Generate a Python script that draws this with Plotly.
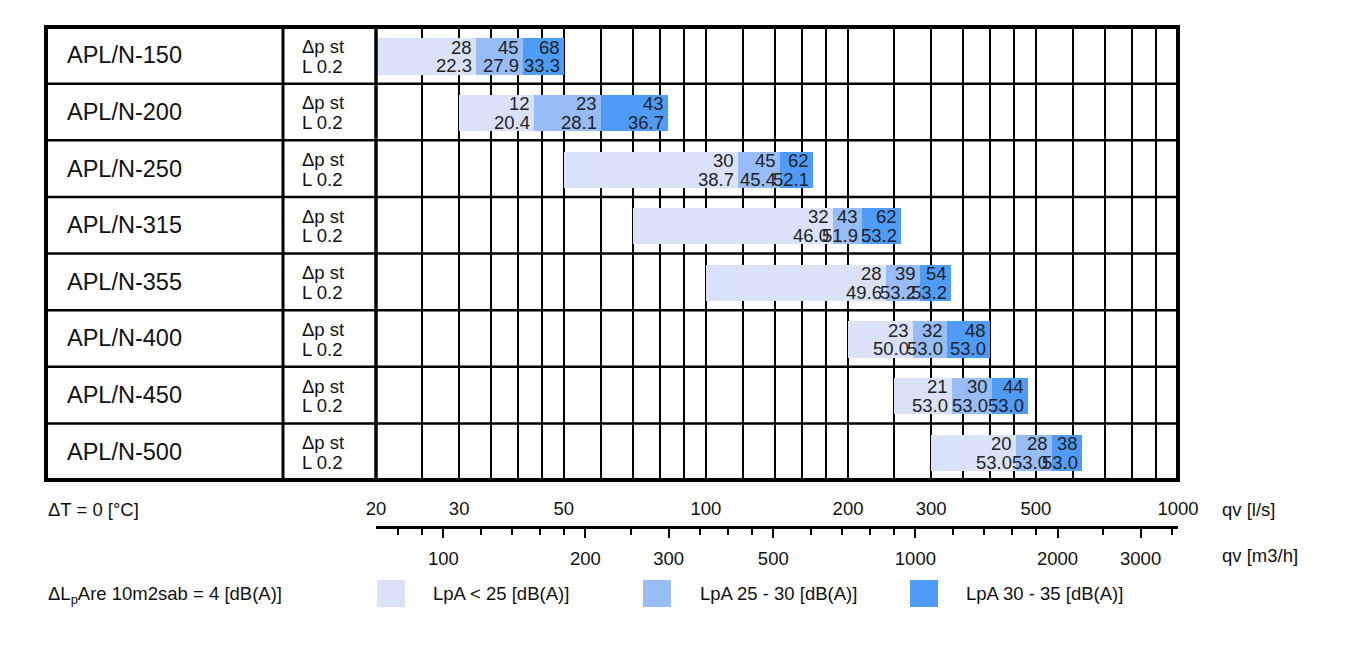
import numpy as np
import plotly.graph_objects as go

# ---------------- data ----------------
models = ["APL/N-150", "APL/N-200", "APL/N-250", "APL/N-315",
          "APL/N-355", "APL/N-400", "APL/N-450", "APL/N-500"]
# flow boundaries of the segments [l/s]
q_start = [20, 30, 50, 70, 100, 200, 250, 300]
q_lpa25 = [32.6, 43.2, 117, 186, 241, 275, 332, 454]
q_lpa30 = [41, 60, 143.5, 214, 284, 324, 404, 541]
q_lpa35 = [50, 83, 168.6, 259, 330, 400, 481, 626]
# static pressure drop (top numbers)
dp_lpa25 = [28, 12, 30, 32, 28, 23, 21, 20]
dp_lpa30 = [45, 23, 45, 43, 39, 32, 30, 28]
dp_lpa35 = [68, 43, 62, 62, 54, 48, 44, 38]
# throw L 0.2 (bottom numbers)
l02_lpa25 = [22.3, 20.4, 38.7, 46.0, 49.6, 50.0, 53.0, 53.0]
l02_lpa30 = [27.9, 28.1, 45.4, 51.9, 53.2, 53.0, 53.0, 53.0]
l02_lpa35 = [33.3, 36.7, 52.1, 53.2, 53.2, 53.0, 53.0, 53.0]

grid_ls = [20, 25, 30, 35, 40, 45, 50, 60, 70, 80, 90, 100, 120, 140, 160, 180,
           200, 250, 300, 350, 400, 450, 500, 600, 700, 800, 900, 1000]
ls_labels = [20, 30, 50, 100, 200, 300, 500, 1000]
m3h_labels = [100, 200, 300, 500, 1000, 2000, 3000]
m3h_minor = [80, 90, 100, 120, 140, 160, 180, 200, 250, 300, 350, 400, 450, 500,
             600, 700, 800, 900, 1000, 1200, 1400, 1600, 1800, 2000, 2500, 3000, 3500]

legend_names = ["LpA &lt; 25 [dB(A)]", "LpA 25 - 30 [dB(A)]", "LpA 30 - 35 [dB(A)]"]
colors = ["rgb(218,226,250)", "rgb(152,189,246)", "rgb(78,156,247)"]

# ---------------- layout helpers ----------------
W, H = 1366, 659
L, R, T, B = 376, 1178, 27, 600
TABLE_BOTTOM = 480
FONT = "Liberation Sans, Arial, sans-serif"
FS = 18.5


def px(xp):
    return (xp - L) / (R - L)


def py(yp):
    return (B - yp) / (B - T)


fig = go.Figure()

bounds = [q_start, q_lpa25, q_lpa30, q_lpa35]
tops = [dp_lpa25, dp_lpa30, dp_lpa35]
bots = [l02_lpa25, l02_lpa30, l02_lpa35]
rows = np.arange(len(models))

for k in range(3):
    s = np.array(bounds[k], dtype=float)
    e = np.array(bounds[k + 1], dtype=float)
    fig.add_trace(go.Bar(
        y=rows + 0.52, x=e - s, base=s, orientation="h", width=0.64,
        marker=dict(color=colors[k], line=dict(width=0)),
        showlegend=False, hoverinfo="skip"))

annotations = []
for k in range(3):
    for i in rows:
        xe = np.log10(bounds[k + 1][i])
        annotations.append(dict(x=xe, y=i + 0.355, xref="x", yref="y",
                                text=str(tops[k][i]), showarrow=False,
                                xanchor="right", yanchor="middle", xshift=-2,
                                font=dict(size=FS, color="#222", family=FONT)))
        annotations.append(dict(x=xe, y=i + 0.685, xref="x", yref="y",
                                text=f"{bots[k][i]:.1f}", showarrow=False,
                                xanchor="right", yanchor="middle", xshift=-2,
                                font=dict(size=FS, color="#222", family=FONT)))

for i, m in enumerate(models):
    annotations.append(dict(x=px(65), y=i + 0.5, xref="paper", yref="y", text=m,
                            showarrow=False, xanchor="left", yanchor="middle",
                            font=dict(size=23.5, color="#111", family=FONT)))
    annotations.append(dict(x=px(300), y=i + 0.34, xref="paper", yref="y", text="Δp st",
                            showarrow=False, xanchor="left", yanchor="middle",
                            font=dict(size=FS, color="#111", family=FONT)))
    annotations.append(dict(x=px(300), y=i + 0.69, xref="paper", yref="y", text="L 0.2",
                            showarrow=False, xanchor="left", yanchor="middle",
                            font=dict(size=FS, color="#111", family=FONT)))


def txt(x, y, s, size=FS):
    return dict(x=px(x), y=py(y), xref="paper", yref="paper", text=s, showarrow=False,
                xanchor="left", yanchor="middle",
                font=dict(size=size, color="#111", family=FONT))


annotations += [
    txt(46, 509, "ΔT = 0 [°C]"),
    txt(1220, 509, "qv [l/s]"),
    txt(1220, 555, "qv [m3/h]"),
    txt(46, 595, "ΔL<sub>p</sub>Are 10m2sab = 4 [dB(A)]"),
]
sw_x = [377, 643, 910]
tx_x = [431, 698, 964]
shapes = []
for k in range(3):
    annotations.append(txt(tx_x[k], 593, legend_names[k]))
    shapes.append(dict(type="rect", xref="paper", yref="paper",
                       x0=px(sw_x[k]), x1=px(sw_x[k] + 28), y0=py(607), y1=py(580),
                       fillcolor=colors[k], line=dict(width=0)))

# table lines
for r in range(1, 8):
    shapes.append(dict(type="line", xref="paper", yref="y", x0=px(46), x1=1, y0=r, y1=r,
                       line=dict(color="black", width=2.5), layer="above"))
for xv, w in [(283, 3), (376, 3.5)]:
    shapes.append(dict(type="line", xref="paper", yref="paper", x0=px(xv), x1=px(xv),
                       y0=py(TABLE_BOTTOM), y1=1, line=dict(color="black", width=w)))
shapes.append(dict(type="rect", xref="paper", yref="paper", x0=px(46), x1=1,
                   y0=py(TABLE_BOTTOM), y1=1, line=dict(color="black", width=4)))

xr = [np.log10(20), np.log10(1000)]
fig.update_layout(
    width=W, height=H, margin=dict(l=L, r=W - R, t=T, b=H - B),
    paper_bgcolor="white", plot_bgcolor="white",
    barmode="overlay", bargap=0,
    xaxis=dict(type="log", range=xr, tickmode="array", tickvals=grid_ls,
               showticklabels=False, ticks="", showgrid=True, gridcolor="black",
               gridwidth=2, showline=False, zeroline=False, fixedrange=True),
    yaxis=dict(range=[8, 0], domain=[py(TABLE_BOTTOM), 1], showgrid=False,
               showticklabels=False, ticks="", zeroline=False, fixedrange=True),
    xaxis2=dict(type="log", range=xr, overlaying="x", anchor="free", position=py(527),
                side="top", tickmode="array", tickvals=ls_labels,
                ticktext=[str(v) for v in ls_labels], ticks="", showgrid=False,
                showline=True, linecolor="black", linewidth=3, ticklabelstandoff=4,
                tickfont=dict(size=FS, color="#111", family=FONT), fixedrange=True),
    xaxis3=dict(type="log", range=xr, overlaying="x", anchor="free", position=py(527),
                side="bottom", tickmode="array",
                tickvals=[v / 3.6 for v in m3h_labels],
                ticktext=[str(v) for v in m3h_labels], ticks="outside", ticklen=10,
                tickwidth=2, tickcolor="black", showgrid=False, showline=False,
                minor=dict(tickmode="array", tickvals=[v / 3.6 for v in m3h_minor],
                           ticks="outside", ticklen=7, tickwidth=2, tickcolor="black",
                           showgrid=False),
                ticklabelstandoff=5,
                tickfont=dict(size=FS, color="#111", family=FONT), fixedrange=True),
    annotations=annotations, shapes=shapes,
)
# invisible traces to activate extra axes
fig.add_trace(go.Scatter(x=[100], y=[0.5], xaxis="x2", mode="markers",
                         marker=dict(opacity=0), showlegend=False, hoverinfo="skip"))
fig.add_trace(go.Scatter(x=[100], y=[0.5], xaxis="x3", mode="markers",
                         marker=dict(opacity=0), showlegend=False, hoverinfo="skip"))

fig.write_html("out.html", config={"displayModeBar": False},
               post_script="document.body.style.margin='0';")
